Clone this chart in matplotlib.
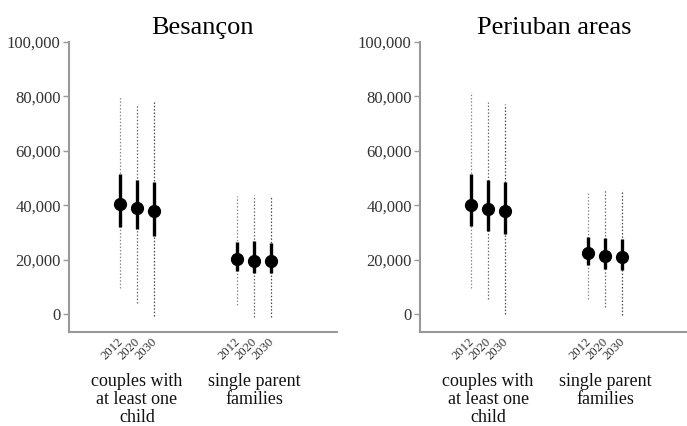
import matplotlib
matplotlib.use("Agg")
import matplotlib.pyplot as plt
from matplotlib.ticker import FuncFormatter
from matplotlib.transforms import ScaledTranslation

plt.rcParams['font.family'] = ['Liberation Serif', 'DejaVu Serif']

years = ["2012", "2020", "2030"]
categories = ["couples with\nat least one\nchild", "single parent\nfamilies"]
panels = ["Besançon", "Periuban areas"]

# Besançon: [couples, single parent] x [2012, 2020, 2030]
bes_mid = [[40400, 39100, 38000], [20200, 19600, 19500]]
bes_q_lo = [[32000, 31100, 28700], [15900, 15200, 15200]]
bes_q_hi = [[51500, 49300, 48500], [26600, 27000, 26000]]
bes_lo = [[9600, 4200, -700], [3300, -1000, -1000]]
bes_hi = [[80200, 77200, 78400], [43400, 43750, 43400]]

# Periuban areas
per_mid = [[40100, 38700, 38000], [22400, 21300, 21000]]
per_q_lo = [[32300, 30500, 29300], [18000, 16700, 16300]]
per_q_hi = [[51400, 49400, 48500], [28300, 28000, 27700]]
per_lo = [[9500, 5500, 0], [5500, 2500, -500]]
per_hi = [[81500, 78000, 77300], [44500, 45500, 45500]]

data = [
    (bes_mid, bes_q_lo, bes_q_hi, bes_lo, bes_hi),
    (per_mid, per_q_lo, per_q_hi, per_lo, per_hi),
]

group_start = [3.0, 9.9]
dot_grey = ["#8a8a8a", "#6a6a6a", "#4a4a4a"]

fig = plt.figure(figsize=(6.87, 4.26), dpi=100)
lefts = [0.1004, 0.6114]

for p, (title, (mid, qlo, qhi, lo, hi)) in enumerate(zip(panels, data)):
    ax = fig.add_axes([lefts[p], 0.2207, 0.39, 0.6807])
    for g in range(len(categories)):
        for k in range(len(years)):
            x = group_start[g] + k
            ax.plot([x, x], [lo[g][k], hi[g][k]], linestyle=(0, (1.2, 1.5)),
                    color=dot_grey[k], linewidth=0.9, zorder=1)
            ax.plot([x, x], [qlo[g][k], qhi[g][k]], color="black",
                    linewidth=2.4, solid_capstyle="butt", zorder=2)
            ax.plot(x, mid[g][k], "o", color="black", markersize=8.5, zorder=3)

    ax.set_xlim(0, 15.75)
    ax.set_ylim(-6600, 100000)
    ax.set_yticks([0, 20000, 40000, 60000, 80000, 100000])
    ax.yaxis.set_major_formatter(FuncFormatter(lambda v, pos: f"{int(v):,}"))
    ax.tick_params(axis="y", length=4, width=1, color="#999999",
                   labelsize=12, labelcolor="#333333", pad=2)

    xt = [group_start[g] + k for g in range(2) for k in range(3)]
    ax.set_xticks(xt)
    ax.set_xticklabels(years * 2, rotation=45, ha="right",
                       rotation_mode="anchor", fontsize=9.2, color="#333333")
    ax.tick_params(axis="x", length=0, pad=3)
    shift = ScaledTranslation(-3 / 100, 0, fig.dpi_scale_trans)
    for lbl in ax.get_xticklabels():
        lbl.set_transform(lbl.get_transform() + shift)

    for g, cat in enumerate(categories):
        ax.text(group_start[g] + 1, -0.14, cat, transform=ax.get_xaxis_transform(),
                ha="center", va="top", fontsize=13, linespacing=1.1, color="#111111")

    for side in ["top", "right"]:
        ax.spines[side].set_visible(False)
    for side in ["left", "bottom"]:
        ax.spines[side].set_color("#999999")
        ax.spines[side].set_linewidth(1.5)

    ax.set_title(title, fontsize=19, pad=6)

plt.savefig("out.png", dpi=100)
